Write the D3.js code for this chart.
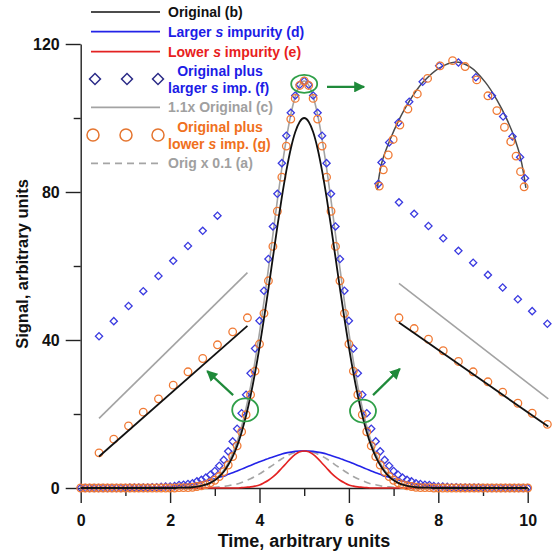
<!DOCTYPE html>
<html><head><meta charset="utf-8">
<script src="https://cdn.jsdelivr.net/npm/d3@7"></script>
<style>
body{margin:0;background:#fff}
svg{display:block}
text{font-family:Arial,"Liberation Sans",sans-serif;font-weight:bold}
</style>
</head><body>
<svg id="chart" width="553" height="554"></svg>
<script>
// ---------- data ----------
const time = [0,0.1,0.2,0.3,0.4,0.5,0.6,0.7,0.8,0.9,1,1.1,1.2,1.3,1.4,1.5,1.6,1.7,1.8,1.9,2,2.1,2.2,2.3,2.4,2.5,2.6,2.7,2.8,2.9,3,3.1,3.2,3.3,3.4,3.5,3.6,3.7,3.8,3.9,4,4.1,4.2,4.3,4.4,4.5,4.6,4.7,4.8,4.9,5,5.1,5.2,5.3,5.4,5.5,5.6,5.7,5.8,5.9,6,6.1,6.2,6.3,6.4,6.5,6.6,6.7,6.8,6.9,7,7.1,7.2,7.3,7.4,7.5,7.6,7.7,7.8,7.9,8,8.1,8.2,8.3,8.4,8.5,8.6,8.7,8.8,8.9,9,9.1,9.2,9.3,9.4,9.5,9.6,9.7,9.8,9.9,10];

const originalB = [0,0,0,0,0,0,0,0,0,0, 0,0,0,0,0,0,0,0,0,0, 0,0,0.1,0.1,0.1,0.2,0.4,0.6,0.9,1.4, 2.1,3.1,4.4,6.2,8.5,11.4,15.1,19.6,24.9,31.1, 38.1,45.8,53.9,62.3,70.7,78.6,85.7,91.7,96.2,99.0, 100, 99.0,96.2,91.7,85.7,78.6,70.7,62.3,53.9,45.8,38.1, 31.1,24.9,19.6,15.1,11.4,8.5,6.2,4.4,3.1,2.1, 1.4,0.9,0.6,0.4,0.2,0.1,0.1,0.1,0,0, 0,0,0,0,0,0,0,0,0,0, 0,0,0,0,0,0,0,0,0,0];

const largerImpD = [0,0,0,0,0,0,0,0,0,0, 0,0.1,0.1,0.1,0.1,0.1,0.2,0.2,0.3,0.4, 0.4,0.5,0.7,0.8,1.0,1.1,1.4,1.6,1.9,2.2, 2.5,2.9,3.2,3.7,4.1,4.6,5.1,5.6,6.1,6.6, 7.1,7.5,8.0,8.4,8.8,9.2,9.5,9.7,9.9,10.0, 10, 10.0,9.9,9.7,9.5,9.2,8.8,8.4,8.0,7.5,7.1, 6.6,6.1,5.6,5.1,4.6,4.1,3.7,3.2,2.9,2.5, 2.2,1.9,1.6,1.4,1.1,1.0,0.8,0.7,0.5,0.4, 0.4,0.3,0.2,0.2,0.1,0.1,0.1,0.1,0.1,0, 0,0,0,0,0,0,0,0,0,0];

const lowerImpE = [0,0,0,0,0,0,0,0,0,0, 0,0,0,0,0,0,0,0,0,0, 0,0,0,0,0,0,0,0,0,0, 0,0,0,0,0,0,0.1,0.2,0.3,0.5, 0.8,1.4,2.1,3.0,4.1,5.4,6.7,8.0,9.1,9.8, 10, 9.8,9.1,8.0,6.7,5.4,4.1,3.0,2.1,1.4,0.8, 0.5,0.3,0.2,0.1,0,0,0,0,0,0, 0,0,0,0,0,0,0,0,0,0, 0,0,0,0,0,0,0,0,0,0, 0,0,0,0,0,0,0,0,0,0];

const origTimes01A = [0,0,0,0,0,0,0,0,0,0, 0,0,0,0,0,0,0,0,0,0, 0,0,0,0,0,0,0,0.1,0.1,0.1, 0.2,0.3,0.4,0.6,0.9,1.1,1.5,2.0,2.5,3.1, 3.8,4.6,5.4,6.2,7.1,7.9,8.6,9.2,9.6,9.9, 10, 9.9,9.6,9.2,8.6,7.9,7.1,6.2,5.4,4.6,3.8, 3.1,2.5,2.0,1.5,1.1,0.9,0.6,0.4,0.3,0.2, 0.1,0.1,0.1,0,0,0,0,0,0,0, 0,0,0,0,0,0,0,0,0,0, 0,0,0,0,0,0,0,0,0,0];

const origTimes11C = [0,0,0,0,0,0,0,0,0,0, 0,0,0,0,0,0,0,0,0,0, 0,0,0.1,0.1,0.1,0.2,0.4,0.7,1.0,1.5, 2.3,3.4,4.8,6.8,9.4,12.5,16.6,21.6,27.4,34.2, 41.9,50.4,59.3,68.5,77.8,86.5,94.3,100.9,105.8,108.9, 110, 108.9,105.8,100.9,94.3,86.5,77.8,68.5,59.3,50.4,41.9, 34.2,27.4,21.6,16.6,12.5,9.4,6.8,4.8,3.4,2.3, 1.5,1.0,0.7,0.4,0.2,0.1,0.1,0.1,0,0, 0,0,0,0,0,0,0,0,0,0, 0,0,0,0,0,0,0,0,0,0];

const plusLargerF = [0,0,0,0,0,0,0,0,0,0, 0,0.1,0.1,0.1,0.1,0.1,0.2,0.2,0.3,0.4, 0.4,0.5,0.8,0.9,1.1,1.3,1.8,2.2,2.8,3.6, 4.6,6.0,7.6,9.9,12.6,16.0,20.2,25.2,31.0,37.7, 45.2,53.3,61.9,70.7,79.5,87.8,95.2,101.4,106.1,109.0, 110, 109.0,106.1,101.4,95.2,87.8,79.5,70.7,61.9,53.3,45.2, 37.7,31.0,25.2,20.2,16.0,12.6,9.9,7.6,6.0,4.6, 3.6,2.8,2.2,1.8,1.3,1.1,0.9,0.8,0.5,0.4, 0.4,0.3,0.2,0.2,0.1,0.1,0.1,0.1,0.1,0, 0,0,0,0,0,0,0,0,0,0];

const plusLowerG = [0,0,0,0,0,0,0,0,0,0, 0,0,0,0,0,0,0,0,0,0, 0,0,0.1,0.1,0.1,0.2,0.4,0.6,0.9,1.4, 2.1,3.1,4.4,6.2,8.5,11.4,15.2,19.8,25.2,31.6, 38.9,47.2,56.0,65.3,74.8,84.0,92.4,99.7,105.3,108.8, 110, 108.8,105.3,99.7,92.4,84.0,74.8,65.3,56.0,47.2,38.9, 31.6,25.2,19.8,15.2,11.4,8.5,6.2,4.4,3.1,2.1, 1.4,0.9,0.6,0.4,0.2,0.1,0.1,0.1,0,0, 0,0,0,0,0,0,0,0,0,0, 0,0,0,0,0,0,0,0,0,0];

// magnified insets (positions read in main-chart units)
const leftInsetT = [0.41,0.74,1.07,1.40,1.74,2.07,2.40,2.73,3.06,3.40,3.73];
const leftInsetCircles = [9.5,13.2,16.8,20.5,24.1,27.8,31.4,35.0,38.7,42.2,46.0];
const leftInsetDiamonds = [41.0,45.1,49.2,53.2,57.3,61.4,65.4,69.5,73.6];
const leftInsetLineT = [0.41,3.73];
const leftInsetBlack = [8.5,43.8];
const leftInsetGray = [18.8,58.2];

const rightInsetT = [7.12,7.46,7.78,8.11,8.45,8.78,9.11,9.44,9.78,10.10,10.44];
const rightInsetCircles = [46.0,43.1,40.2,37.1,34.2,31.4,28.7,25.9,22.9,20.2,17.2];
const rightInsetDiamonds = [77.2,74.1,70.8,67.5,64.1,60.9,57.6,54.2,51.0,47.8,44.4];
const rightInsetLineT = [7.12,10.46];
const rightInsetBlack = [44.7,16.6];
const rightInsetGray = [55.3,24.1];

const peakCurveT = [6.63,6.74,6.92,7.12,7.37,7.66,8.02,8.37,8.71,9.05,9.31,9.54,9.72,9.85,9.96];
const peakCurveV = [80.5,88.1,94.1,99.5,104.9,109.7,113.5,115.1,113.8,109.7,104.9,99.5,94.1,88.7,81.1];
const peakDiamondT = [6.66,6.73,6.90,7.11,7.35,7.65,8.02,8.45,8.84,9.20,9.45,9.66,9.83,9.94];
const peakDiamondV = [82.2,88.0,93.4,98.8,104.4,109.8,114.1,115.0,111.0,106.0,100.4,95.0,89.4,83.7];
const peakCircleT = [6.68,6.77,6.88,6.99,7.14,7.32,7.53,7.76,8.04,8.32,8.60,8.86,9.11,9.31,9.48,9.62,9.74,9.84,9.92];
const peakCircleV = [81.6,86.0,90.0,94.2,98.1,102.4,106.5,110.7,114.1,115.5,113.9,110.3,106.0,102.0,97.5,93.6,89.7,85.5,81.4];

// annotations (main-chart units)
const zoomRings = [{t:5.0,v:109.2,ry:9},{t:3.68,v:21.1,ry:11.5},{t:6.315,v:20.8,ry:11.5}];
const arrows = [{t0:5.51,v0:108.4,t1:6.34,v1:108.4},{t0:3.41,v0:25.1,t1:2.83,v1:31.6},{t0:6.54,v0:25.1,t1:7.14,v1:32.2}];

const xMajorTicks = [0,2,4,6,8,10];
const xMinorTicks = [1,3,5,7,9];
const yMajorTicks = [0,40,80,120];
const yMinorTicks = [20,60,100];

// ---------- drawing ----------
const svg = d3.select("#chart");
const x = d3.scaleLinear().domain([0,10]).range([80.7,527.7]);
const y = d3.scaleLinear().domain([0,120]).range([488,44]);

const C = {black:"#111", blue:"#2323e8", red:"#e32222", gray:"#a3a3a3", dia:"#3b3be0", circ:"#f07a35",
           legDia:"#2c2c88", legCirc:"#e5752f", green:"#2f9f48", arrow:"#1f8a3a", textBlue:"#1c1ce6", textRed:"#e82020", textOrange:"#f07020"};

// axes
const gx = svg.append("g").attr("transform","translate(0,488)");
gx.call(d3.axisBottom(x).tickValues(xMajorTicks).tickSize(15).tickSizeOuter(0).tickPadding(12).tickFormat(d3.format("d")));
const gxm = svg.append("g").attr("transform","translate(0,488)");
gxm.call(d3.axisBottom(x).tickValues(xMinorTicks).tickSize(8).tickSizeOuter(0).tickFormat(""));
gxm.select(".domain").remove();
const gy = svg.append("g").attr("transform","translate(80.7,0)");
gy.call(d3.axisLeft(y).tickValues(yMajorTicks).tickSize(15).tickSizeOuter(0).tickPadding(6).tickFormat(d3.format("d")));
const gym = svg.append("g").attr("transform","translate(80.7,0)");
gym.call(d3.axisLeft(y).tickValues(yMinorTicks).tickSize(7).tickSizeOuter(0).tickFormat(""));
gym.select(".domain").remove();
svg.selectAll(".domain, .tick line").attr("stroke","#222").attr("stroke-width",1.4);
svg.selectAll(".tick text").attr("font-size",16).attr("font-weight","bold").attr("fill","#111")
   .attr("font-family","Arial, 'Liberation Sans', sans-serif");

svg.append("text").attr("x",304).attr("y",547).attr("text-anchor","middle").attr("font-size",18).attr("fill","#111")
   .text("Time, arbitrary units");
svg.append("text").attr("transform","translate(28,264) rotate(-90)").attr("text-anchor","middle").attr("font-size",16.5).attr("fill","#111")
   .text("Signal, arbitrary units");

// series lines
const pts = arr => arr.map((v,i)=>[time[i],v]);
const line = d3.line().x(d=>x(d[0])).y(d=>y(d[1])).curve(d3.curveMonotoneX);
const plot = svg.append("g");
plot.append("path").attr("d",line(pts(origTimes01A))).attr("fill","none").attr("stroke","#a5a5a5").attr("stroke-width",1.6).attr("stroke-dasharray","7,5");
plot.append("path").attr("d",line(pts(largerImpD))).attr("fill","none").attr("stroke",C.blue).attr("stroke-width",1.6);
plot.append("path").attr("d",line(pts(lowerImpE))).attr("fill","none").attr("stroke",C.red).attr("stroke-width",1.6);
plot.append("path").attr("d",line(pts(origTimes11C))).attr("fill","none").attr("stroke",C.gray).attr("stroke-width",1.6);

const diamond = d3.symbol().type(d3.symbolSquare).size(26);
function drawDiamonds(g, ts, vs, color){
  g.selectAll(null).data(ts.map((t,i)=>[t,vs[i]])).join("path")
   .attr("d",diamond).attr("transform",d=>`translate(${x(d[0])},${y(d[1])}) rotate(45)`)
   .attr("fill","none").attr("stroke",color).attr("stroke-width",1.3);
}
function drawCircles(g, ts, vs, color){
  g.selectAll(null).data(ts.map((t,i)=>[t,vs[i]])).join("circle")
   .attr("cx",d=>x(d[0])).attr("cy",d=>y(d[1])).attr("r",3.8)
   .attr("fill","none").attr("stroke",color).attr("stroke-width",1.3);
}
drawDiamonds(plot.append("g"), time, plusLargerF, C.dia);
drawCircles(plot.append("g"), time, plusLowerG, C.circ);
plot.append("path").attr("d",line(pts(originalB))).attr("fill","none").attr("stroke",C.black).attr("stroke-width",1.8);

// insets
const straight = d3.line().x(d=>x(d[0])).y(d=>y(d[1]));
const ins = svg.append("g");
ins.append("path").attr("d",straight(leftInsetLineT.map((t,i)=>[t,leftInsetGray[i]]))).attr("stroke",C.gray).attr("stroke-width",1.6).attr("fill","none");
ins.append("path").attr("d",straight(rightInsetLineT.map((t,i)=>[t,rightInsetGray[i]]))).attr("stroke",C.gray).attr("stroke-width",1.6).attr("fill","none");
drawDiamonds(ins.append("g"), leftInsetT.slice(0,leftInsetDiamonds.length), leftInsetDiamonds, C.dia);
drawDiamonds(ins.append("g"), rightInsetT, rightInsetDiamonds, C.dia);
drawCircles(ins.append("g"), leftInsetT, leftInsetCircles, C.circ);
drawCircles(ins.append("g"), rightInsetT, rightInsetCircles, C.circ);
ins.append("path").attr("d",straight(leftInsetLineT.map((t,i)=>[t,leftInsetBlack[i]]))).attr("stroke",C.black).attr("stroke-width",1.8).attr("fill","none");
ins.append("path").attr("d",straight(rightInsetLineT.map((t,i)=>[t,rightInsetBlack[i]]))).attr("stroke",C.black).attr("stroke-width",1.8).attr("fill","none");
ins.append("path").attr("d",d3.line().x(d=>x(d[0])).y(d=>y(d[1])).curve(d3.curveCatmullRom)(peakCurveT.map((t,i)=>[t,peakCurveV[i]])))
   .attr("stroke","#4a4a4a").attr("stroke-width",1.5).attr("fill","none");
drawDiamonds(ins.append("g"), peakDiamondT, peakDiamondV, C.dia);
drawCircles(ins.append("g"), peakCircleT, peakCircleV, C.circ);

// annotations
const ann = svg.append("g");
ann.selectAll("ellipse").data(zoomRings).join("ellipse")
   .attr("cx",d=>x(d.t)).attr("cy",d=>y(d.v)).attr("rx",13).attr("ry",d=>d.ry)
   .attr("fill","none").attr("stroke",C.green).attr("stroke-width",1.8);
svg.append("defs").append("marker").attr("id","ah").attr("viewBox","0 0 10 10").attr("refX",9).attr("refY",5)
   .attr("markerWidth",5).attr("markerHeight",5).attr("markerUnits","strokeWidth").attr("orient","auto")
   .append("path").attr("d","M0,0 L10,5 L0,10 Z").attr("fill",C.arrow);
ann.selectAll("line").data(arrows).join("line")
   .attr("x1",d=>x(d.t0)).attr("y1",d=>y(d.v0)).attr("x2",d=>x(d.t1)).attr("y2",d=>y(d.v1))
   .attr("stroke",C.arrow).attr("stroke-width",2.2).attr("marker-end","url(#ah)");

// legend
const lg = svg.append("g");
function legLine(yy,color,dash){
  lg.append("line").attr("x1",91).attr("x2",160).attr("y1",yy).attr("y2",yy).attr("stroke",color).attr("stroke-width",1.7)
    .attr("stroke-dasharray",dash||null);
}
function legText(xx,yy,parts,color,anchor){
  const t = lg.append("text").attr("x",xx).attr("y",yy).attr("font-size",14).attr("fill",color).attr("text-anchor",anchor||"start");
  parts.forEach(p=>{ const s=t.append("tspan").text(p[0]); if(p[1]) s.attr("font-style","italic"); });
}
legLine(12,C.black); legText(168,17,[["Original (b)"]],"#111");
legLine(31.7,C.blue); legText(168,36.7,[["Larger "],["s",1],[" impurity (d)"]],C.textBlue);
legLine(51.7,C.red); legText(168,56.7,[["Lower "],["s",1],[" impurity (e)"]],C.textRed);
[95,127,158].forEach(xx=>lg.append("path").attr("d",d3.symbol().type(d3.symbolSquare).size(60)())
   .attr("transform",`translate(${xx},79) rotate(45)`).attr("fill","none").attr("stroke",C.legDia).attr("stroke-width",1.5));
legText(220,76,[["Original plus"]],C.textBlue,"middle");
legText(168,93.3,[["larger "],["s",1],[" imp. (f)"]],C.textBlue);
legLine(107.3,C.gray); legText(168,112.3,[["1.1x Original (c)"]],"#a0a0a0");
[93,126,158].forEach(xx=>lg.append("circle").attr("cx",xx).attr("cy",135).attr("r",6)
   .attr("fill","none").attr("stroke",C.legCirc).attr("stroke-width",1.5));
legText(220,132,[["Original plus"]],C.textOrange,"middle");
legText(168,148.7,[["lower "],["s",1],[" imp. (g)"]],C.textOrange);
legLine(163.3,"#a5a5a5","7,5"); legText(168,168.3,[["Orig x 0.1 (a)"]],"#a0a0a0");
</script>
</body></html>
